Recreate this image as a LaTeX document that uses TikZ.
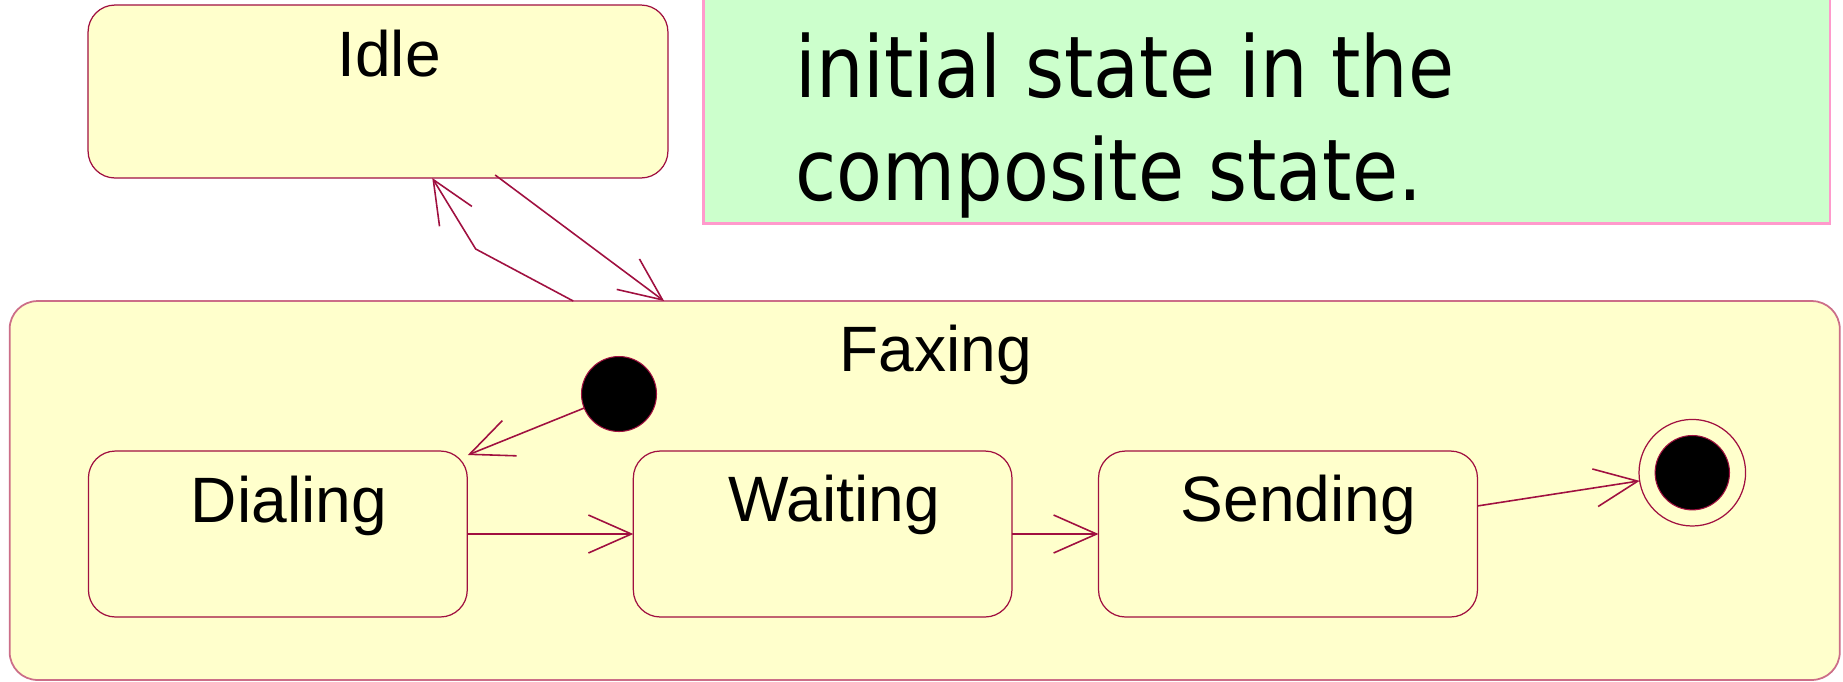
\documentclass[tikz,border=0pt]{standalone}
\usepackage{fontspec}
\setmainfont{Liberation Sans}
\newfontfamily\notefont[FakeStretch=0.88]{DejaVu Sans}
\usetikzlibrary{arrows.meta,calc}

\definecolor{stateFill}{HTML}{FFFFCC}
\definecolor{stateLine}{RGB}{160,16,64}
\definecolor{outerLine}{RGB}{204,110,136}
\definecolor{noteFill}{HTML}{CCFFCC}
\definecolor{noteLine}{HTML}{FF99CC}

\begin{document}
\begin{tikzpicture}[x=0.02cm, y=-0.02cm,
  statebox/.style={draw=stateLine, fill=stateFill, line width=0.7pt,
    rounded corners=0.54cm, inner sep=0pt, outer sep=0pt},
  compbox/.style={statebox, draw=outerLine, line width=1pt, rounded corners=0.56cm},
  notebox/.style={draw=noteLine, fill=noteFill, line width=1.4pt, inner sep=0pt, outer sep=0pt},
  statename/.style={font=\fontsize{36.5}{40}\selectfont, inner sep=0pt, anchor=base, text=black},
  notetext/.style={font=\notefont\fontsize{48.5}{58}\selectfont, inner sep=0pt, anchor=base west, text=black},
  trans/.style={draw=stateLine, line width=0.9pt,
    -{Straight Barb[length=0.86cm, width=0.76cm]}},
  initdot/.style={circle, draw=stateLine, fill=black, line width=0.6pt,
    minimum size=1.5cm, inner sep=0pt, outer sep=0pt},
  finalring/.style={circle, draw=stateLine, fill=stateFill, line width=0.7pt,
    minimum size=2.132cm, inner sep=0pt, outer sep=0pt},
  finaldot/.style={circle, draw=stateLine, fill=black, line width=0.6pt,
    minimum size=1.488cm, inner sep=0pt, outer sep=0pt}]

\fill[white] (0,0) rectangle (1843,681);
\useasboundingbox (0,0) rectangle (1843,681);

% composite state and its substates
\node[compbox, minimum width=36.61cm, minimum height=7.58cm] (fax) at (924.7,490.5) {};
\node[statename] (faxT) at (935.8,371.7) {Faxing};

\node[statebox, minimum width=7.578cm, minimum height=3.32cm] (dial) at (277.85,534) {};
\node[statename] (dialT) at (289,522.3) {Dialing};
\node[statebox, minimum width=7.574cm, minimum height=3.32cm] (wait) at (822.65,534) {};
\node[statename] (waitT) at (834,521.7) {Waiting};
\node[statebox, minimum width=7.58cm, minimum height=3.32cm] (send) at (1288,534) {};
\node[statename] (sendT) at (1298.4,521.7) {Sending};

\node[initdot] (init) at (619,394) {};
\node[finalring] (fin) at (1692.3,472.7) {};
\node[finaldot] (finDot) at (1692.3,472.7) {};

% idle state
\node[statebox, minimum width=11.6cm, minimum height=3.46cm] (idle) at (378,91.5) {};
\node[statename] (idleT) at (389,76) {Idle};

% note
\node[notebox, minimum width=22.53cm, minimum height=4.87cm] (note) at (1266.75,101.75) {};
\node[notetext] (note1) at (795,97.3) {initial state in the};
\node[notetext] (note2) at (795,200) {composite state.};

% transitions
\draw[trans] (init) -- ($(dial.north east)+(0.5,4)$);
\draw[trans] (dial.east) -- (wait.west);
\draw[trans] (wait.east) -- (send.west);
\draw[trans] ($(send.north east)!0.331!(send.south east)$) -- (fin);
\draw[trans] ($(fax.north west)!0.308!(fax.north east)$) -- (475.7,249)
  -- ($(idle.south west)!0.5936!(idle.south east)$);
\draw[trans] ($(idle.south west)!0.702!(idle.south east)+(0,-3)$)
  -- ($(fax.north west)!0.3576!(fax.north east)$);
\end{tikzpicture}
\end{document}
